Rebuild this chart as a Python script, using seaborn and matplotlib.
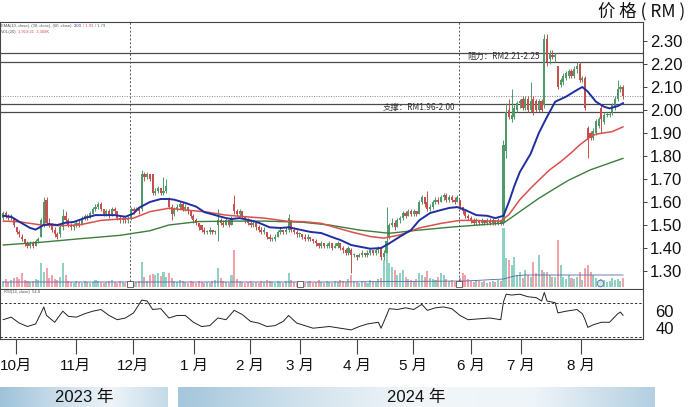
import numpy as np
import pandas as pd
import matplotlib
matplotlib.use("Agg")
import matplotlib.pyplot as plt
import seaborn as sns
from matplotlib.colors import LinearSegmentedColormap

# ---------------- data ----------------
opens = [
    1.53,1.55,1.54,1.53,1.53,1.49,1.47,1.45,1.44,1.42,
    1.41,1.42,1.41,1.43,1.45,1.50,1.61,1.51,1.50,1.48,
    1.46,1.46,1.49,1.54,1.52,1.50,1.49,1.50,1.51,1.50,
    1.53,1.54,1.53,1.55,1.57,1.58,1.59,1.57,1.55,1.56,
    1.54,1.57,1.56,1.53,1.52,1.53,1.52,1.53,1.57,1.56,
    1.57,1.57,1.72,1.71,1.72,1.72,1.64,1.65,1.66,1.64,
    1.65,1.61,1.58,1.55,1.57,1.58,1.59,1.57,1.58,1.56,
    1.54,1.52,1.51,1.50,1.48,1.47,1.47,1.48,1.47,1.50,
    1.52,1.51,1.50,1.52,1.50,1.59,1.56,1.55,1.56,1.54,
    1.52,1.51,1.50,1.51,1.49,1.48,1.47,1.47,1.45,1.44,
    1.44,1.45,1.47,1.48,1.47,1.48,1.52,1.48,1.47,1.46,
    1.46,1.45,1.44,1.45,1.44,1.43,1.42,1.41,1.42,1.41,
    1.41,1.42,1.40,1.41,1.42,1.40,1.39,1.38,1.39,1.37,
    1.37,1.36,1.37,1.38,1.37,1.38,1.39,1.38,1.39,1.40,
    1.36,1.38,1.45,1.50,1.51,1.49,1.52,1.53,1.55,1.54,
    1.56,1.55,1.56,1.55,1.60,1.62,1.60,1.57,1.58,1.60,
    1.61,1.60,1.62,1.63,1.61,1.62,1.61,1.60,1.61,1.58,
    1.56,1.54,1.53,1.52,1.51,1.52,1.51,1.52,1.51,1.52,
    1.51,1.52,1.51,1.52,1.51,1.82,2.00,1.96,1.97,2.00,
    2.03,2.05,2.01,2.05,2.00,2.05,2.04,2.00,2.04,2.02,
    2.31,2.22,2.24,2.23,2.19,2.11,2.12,2.14,2.15,2.17,
    2.15,2.18,2.20,2.13,2.14,1.92,1.90,1.88,1.90,1.93,
    2.01,1.95,1.98,1.98,1.99,2.01,2.05,2.09,2.10,
]
highs = [
    1.56,1.56,1.55,1.55,1.53,1.49,1.48,1.46,1.44,1.43,
    1.43,1.43,1.44,1.45,1.53,1.62,1.62,1.53,1.51,1.49,
    1.47,1.50,1.57,1.56,1.53,1.51,1.51,1.52,1.52,1.54,
    1.55,1.55,1.56,1.58,1.59,1.60,1.60,1.57,1.57,1.57,
    1.58,1.58,1.56,1.54,1.54,1.54,1.54,1.58,1.58,1.58,
    1.58,1.74,1.73,1.73,1.72,1.72,1.66,1.67,1.66,1.71,
    1.70,1.62,1.59,1.58,1.59,1.60,1.60,1.59,1.58,1.56,
    1.55,1.53,1.51,1.50,1.49,1.48,1.49,1.48,1.48,1.57,
    1.53,1.52,1.53,1.52,1.54,1.63,1.57,1.57,1.56,1.54,
    1.53,1.52,1.52,1.51,1.50,1.49,1.49,1.47,1.46,1.45,
    1.46,1.48,1.49,1.48,1.49,1.55,1.52,1.49,1.48,1.47,
    1.46,1.46,1.46,1.45,1.44,1.44,1.42,1.43,1.42,1.42,
    1.43,1.42,1.42,1.43,1.42,1.41,1.40,1.41,1.40,1.38,
    1.37,1.38,1.39,1.38,1.39,1.40,1.39,1.40,1.41,1.40,
    1.39,1.58,1.51,1.53,1.52,1.53,1.54,1.56,1.56,1.57,
    1.57,1.57,1.56,1.61,1.63,1.62,1.65,1.59,1.61,1.62,
    1.62,1.63,1.64,1.64,1.63,1.63,1.62,1.63,1.61,1.58,
    1.57,1.55,1.54,1.53,1.53,1.52,1.53,1.52,1.53,1.53,
    1.53,1.52,1.53,1.52,1.87,2.03,2.05,2.09,2.02,2.04,
    2.05,2.06,2.06,2.06,2.12,2.06,2.05,2.05,2.05,2.33,
    2.33,2.26,2.26,2.25,2.19,2.14,2.16,2.17,2.18,2.18,
    2.19,2.21,2.21,2.15,2.15,1.93,1.91,1.92,1.96,1.97,
    2.02,1.99,1.99,1.99,2.03,2.06,2.13,2.11,2.11,
]
lows = [
    1.52,1.53,1.52,1.52,1.49,1.46,1.45,1.43,1.41,1.40,
    1.40,1.40,1.41,1.42,1.45,1.49,1.50,1.49,1.47,1.45,
    1.44,1.45,1.48,1.51,1.49,1.48,1.48,1.49,1.49,1.50,
    1.52,1.52,1.53,1.55,1.56,1.57,1.56,1.54,1.54,1.53,
    1.54,1.55,1.52,1.51,1.51,1.51,1.51,1.52,1.55,1.56,
    1.55,1.56,1.69,1.70,1.69,1.63,1.63,1.64,1.63,1.63,
    1.64,1.57,1.52,1.54,1.56,1.57,1.56,1.56,1.55,1.53,
    1.51,1.50,1.48,1.47,1.46,1.46,1.46,1.46,1.46,1.43,
    1.50,1.49,1.50,1.49,1.50,1.55,1.54,1.54,1.53,1.51,
    1.50,1.49,1.49,1.48,1.47,1.46,1.46,1.44,1.43,1.43,
    1.43,1.45,1.46,1.46,1.46,1.47,1.47,1.46,1.45,1.45,
    1.44,1.43,1.43,1.43,1.42,1.41,1.40,1.40,1.40,1.40,
    1.40,1.39,1.40,1.40,1.39,1.38,1.37,1.37,1.29,1.36,
    1.35,1.36,1.36,1.36,1.36,1.37,1.37,1.37,1.38,1.35,
    1.35,1.38,1.44,1.49,1.48,1.49,1.51,1.52,1.53,1.54,
    1.54,1.54,1.54,1.55,1.59,1.58,1.56,1.56,1.57,1.59,
    1.59,1.60,1.61,1.60,1.60,1.60,1.59,1.60,1.57,1.55,
    1.53,1.52,1.51,1.50,1.50,1.50,1.50,1.50,1.50,1.50,
    1.50,1.50,1.50,1.50,1.50,1.79,1.96,1.95,1.96,1.99,
    2.01,2.00,2.00,1.99,1.99,1.98,1.99,1.99,1.99,2.01,
    2.19,2.20,2.22,2.21,2.09,2.10,2.11,2.13,2.14,2.14,
    2.14,2.16,2.12,2.12,2.00,1.79,1.87,1.87,1.89,1.92,
    1.90,1.94,1.97,1.97,1.98,2.00,2.04,2.08,2.05,
]
closes = [
    1.55,1.54,1.53,1.54,1.50,1.47,1.46,1.44,1.42,1.41,
    1.42,1.41,1.43,1.44,1.52,1.60,1.51,1.50,1.48,1.46,
    1.45,1.49,1.54,1.52,1.50,1.49,1.50,1.51,1.50,1.53,
    1.54,1.53,1.55,1.57,1.58,1.59,1.57,1.55,1.56,1.54,
    1.57,1.56,1.53,1.52,1.53,1.52,1.53,1.57,1.56,1.57,
    1.56,1.72,1.71,1.72,1.70,1.64,1.65,1.66,1.64,1.65,
    1.67,1.58,1.55,1.57,1.58,1.59,1.57,1.58,1.56,1.54,
    1.52,1.51,1.49,1.48,1.47,1.47,1.48,1.47,1.47,1.52,
    1.51,1.50,1.52,1.50,1.53,1.56,1.55,1.56,1.54,1.52,
    1.51,1.50,1.51,1.49,1.48,1.47,1.48,1.45,1.44,1.44,
    1.45,1.47,1.48,1.47,1.48,1.53,1.48,1.47,1.46,1.46,
    1.45,1.44,1.45,1.44,1.43,1.42,1.41,1.42,1.41,1.41,
    1.42,1.40,1.41,1.42,1.40,1.39,1.38,1.40,1.37,1.37,
    1.36,1.37,1.38,1.37,1.38,1.39,1.38,1.39,1.40,1.36,
    1.38,1.43,1.50,1.51,1.49,1.52,1.53,1.55,1.54,1.56,
    1.55,1.56,1.55,1.60,1.62,1.59,1.57,1.58,1.60,1.61,
    1.60,1.62,1.63,1.61,1.62,1.61,1.60,1.62,1.58,1.56,
    1.54,1.53,1.52,1.51,1.52,1.51,1.52,1.51,1.52,1.51,
    1.52,1.51,1.52,1.51,1.85,1.99,1.97,1.98,2.01,2.03,
    2.04,2.01,2.05,2.00,2.04,1.99,2.00,2.04,2.00,2.31,
    2.21,2.25,2.23,2.24,2.10,2.13,2.15,2.16,2.17,2.15,
    2.18,2.19,2.13,2.14,2.01,1.87,1.88,1.91,1.95,1.96,
    1.96,1.98,1.98,1.98,2.02,2.05,2.09,2.10,2.06,
]
volumes = [
    6,8,5,7,9,10,8,14,7,6,
    5,6,8,7,24,15,19,9,12,8,
    7,10,24,12,6,5,4,6,5,4,
    6,5,4,5,7,6,5,4,5,6,
    7,5,4,6,5,4,5,6,4,5,
    6,25,10,6,12,13,12,14,11,15,
    10,14,9,6,5,7,6,5,4,6,
    5,4,6,5,4,5,4,6,7,19,
    9,6,5,4,12,37,8,6,5,4,
    5,6,4,5,4,6,5,7,6,5,
    4,6,5,4,6,14,7,5,4,6,
    5,4,5,6,4,5,7,5,4,6,
    5,4,6,5,7,6,5,8,12,6,
    5,4,6,5,4,7,6,5,8,9,
    27,37,24,20,17,12,14,17,10,8,
    7,6,8,14,12,10,16,9,8,7,
    10,14,12,8,6,7,5,6,9,14,
    12,8,6,5,7,6,5,6,4,5,
    6,5,7,6,59,29,27,22,30,12,
    15,9,17,12,10,25,14,32,17,15,
    15,12,10,10,47,22,10,8,12,9,
    8,10,15,7,19,22,15,12,9,6,
    8,7,5,6,9,7,8,6,9,
]

# moving-average lines (trading-day index, price)
ema_s_day = [0,3,6,10,12,15,17,20,23,26,30,34,37,41,45,48,50,54,58,61,63,67,71,74,78,82,84,87,91,94,
             98,102,105,109,113,117,122,124,128,131,135,139,142,146,150,153,157,161,164,167,170,174,178,181,184,
             186,188,190,192,194,197,200,203,207,211,213,215,218,221,223,226,228]
ema_s_val = [1.540,1.536,1.514,1.487,1.480,1.500,1.504,1.500,1.510,1.513,1.530,1.543,1.543,1.543,1.536,1.550,1.575,1.600,1.613,1.613,
             1.610,1.596,1.580,1.556,1.543,1.530,1.526,1.530,1.520,1.510,1.490,1.487,1.490,1.480,1.470,1.465,1.443,1.435,1.413,1.406,
             1.397,1.400,1.420,1.450,1.478,1.520,1.552,1.565,1.574,1.578,1.565,1.543,1.540,1.530,1.540,
             1.600,1.670,1.730,1.770,1.810,1.900,1.970,2.036,2.058,2.087,2.100,2.080,2.036,2.014,2.007,2.017,2.030]
ema_m_day = [0,6,14,21,28,36,43,48,54,61,67,74,82,89,96,104,111,117,122,128,135,140,146,153,161,168,174,178,183,
             186,190,194,197,201,205,209,212,216,218,224,228]
ema_m_val = [1.517,1.514,1.500,1.497,1.500,1.520,1.526,1.530,1.558,1.573,1.565,1.558,1.543,1.536,1.530,1.517,1.514,1.507,1.490,1.470,
             1.450,1.443,1.457,1.487,1.507,1.520,1.520,1.517,1.517,
             1.545,1.610,1.660,1.695,1.740,1.775,1.815,1.848,1.884,1.895,1.906,1.927]
ema_l_day = [0,14,28,43,54,61,72,86,96,110,120,131,142,153,164,179,184,190,197,205,208,216,222,228]
ema_l_val = [1.413,1.425,1.440,1.455,1.475,1.500,1.515,1.517,1.517,1.512,1.500,1.478,1.464,1.478,1.490,1.504,1.508,
             1.558,1.616,1.674,1.695,1.740,1.765,1.790]
vol_ma_day = [0,60,120,170,184,188,192,228]
vol_ma_val = [5,5,5,6,8,11,12,12]

rsi_day = [0,3,6,9,12,14,15,16,19,22,24,27,30,33,36,39,42,45,48,51,53,55,58,61,64,67,70,73,76,79,82,85,88,91,94,97,
           100,103,105,108,111,114,117,120,124,128,131,134,138,139,141,142,145,148,151,154,156,159,162,165,168,171,175,179,183,
           184,185,187,190,193,196,198,199,200,203,204,207,211,213,214,215,217,220,223,226,227,228]
rsi_val = [50,53,46,42,45,58,65,55,47,60,54,53,57,60,62,55,50,52,58,73,72,62,63,52,55,55,47,42,43,52,50,61,56,48,46,42,
           43,48,55,46,43,40,41,42,40,38,42,45,47,40,55,63,62,64,62,68,61,64,65,63,55,50,51,52,50,
           71,80,79,80,77,76,72,82,72,70,58,60,62,57,50,41,44,47,47,57,59,55]

price_ticks = [1.30,1.40,1.50,1.60,1.70,1.80,1.90,2.00,2.10,2.20,2.30]
rsi_ticks = [40, 60]
month_day = [4.8, 26.8, 47.8, 70.2, 90.8, 109.2, 130.1, 150.7, 172.0, 190.4, 212.5]
month_labels = ["10月", "11月", "12月", "1 月", "2 月", "3 月", "4 月", "5 月", "6 月", "7 月", "8 月"]
resistance = [2.21, 2.25]
support = [1.99, 2.025]
last_price = 2.06
event_days = [46.7, 109.2, 167.6]
dashed_days = [46.7, 167.6]
circle_day = [219.5]

# ---------------- figure ----------------
sns.set_theme(style="white")
plt.rcParams['font.family'] = ['Liberation Sans', 'Noto Sans CJK SC', 'DejaVu Sans']

W, H = 690, 407
fig = plt.figure(figsize=(W / 100, H / 100), dpi=100)
fig.patch.set_facecolor("white")

def rect(x0, y0, x1, y1):
    return [x0 / W, 1 - y1 / H, (x1 - x0) / W, (y1 - y0) / H]

PX = 2.72       # pixels per trading day
X0 = 3          # pixel of first candle
def xlim_for(x0px, x1px):
    return ((x0px - X0) / PX, (x1px - X0) / PX)

def py(ypx):    # pixel row -> price
    return 2.30 - (ypx - 41) / 230.0

ax = fig.add_axes(rect(0, 22, 643, 289))
vax = ax.twinx()
rax = fig.add_axes(rect(0, 290, 643, 339))

df = pd.DataFrame({"o": opens, "h": highs, "l": lows, "c": closes, "v": volumes})
df["day"] = np.arange(len(df))
up = df["c"] >= df["o"]
UPC, DNC = "#4f9a6a", "#c8504c"
VUP, VDN = "#8fd1c4", "#f3a2a9"
cols = np.where(up, UPC, DNC)

# volume (behind)
vax.bar(df["day"], df["v"], width=0.75, color=np.where(up, VUP, VDN), linewidth=0)
sns.lineplot(x=vol_ma_day, y=vol_ma_val, ax=vax, color="#5566aa", lw=0.6, legend=False)
vax.scatter(event_days, [3.5] * len(event_days), marker="s", s=14, facecolor="white",
            edgecolor="#555555", linewidth=0.6, zorder=5)
vax.scatter(circle_day, [4.5], marker="o", s=22, facecolor="#cfe6ef",
            edgecolor="#5a7fa0", linewidth=0.7, zorder=5)
vax.set_ylim(-2, 265)
vax.set_yticks([])
vax.set_zorder(ax.get_zorder() - 1)
for s in vax.spines.values():
    s.set_visible(False)
ax.patch.set_visible(False)

# horizontal reference lines
for lv in resistance + support:
    ax.axhline(lv, color="#4a4a4a", lw=0.9, zorder=1)
ax.axhline(last_price, color="#888888", lw=0.7, ls=(0, (1, 1.5)), zorder=1)
for d in dashed_days:
    ax.axvline(d, ymin=0.03, ymax=1, color="#555555", lw=0.7, ls=(0, (2, 2)), zorder=1)

# candles
ax.vlines(df["day"], df["l"], df["h"], color=cols, lw=0.7, zorder=3)
body = np.maximum((df["c"] - df["o"]).abs(), 0.004)
ax.bar(df["day"], body, bottom=np.minimum(df["o"], df["c"]), width=0.78,
       color=cols, linewidth=0, zorder=4)

# moving averages
sns.lineplot(x=ema_l_day, y=ema_l_val, ax=ax, color="#3d7d3d", lw=1.0, legend=False, zorder=5)
sns.lineplot(x=ema_m_day, y=ema_m_val, ax=ax, color="#d9504e", lw=1.1, legend=False, zorder=5)
sns.lineplot(x=ema_s_day, y=ema_s_val, ax=ax, color="#1f2fa0", lw=1.4, legend=False, zorder=6)

ax.set_xlim(*xlim_for(0, 643))
ax.set_ylim(py(289), py(22))
ax.yaxis.tick_right()
ax.set_yticks(price_ticks)
ax.set_yticklabels([f"{v:.2f}" for v in price_ticks])
ax.tick_params(axis="y", which="both", right=True, left=False, length=3, width=0.7,
               color="#444444", labelsize=12, pad=2, labelcolor="#111111")
ax.set_xticks([])
ax.set_xlabel("")
ax.set_ylabel("")
vax.set_ylabel("")
for s in ax.spines.values():
    s.set_color("#444444")
    s.set_linewidth(0.8)
ax.grid(False)

# resistance / support labels
ax.text(170.5, 2.232, "阻力：RM2.21-2.25", fontsize=6, color="#333333",
        va="center", ha="left", zorder=7,
        family=['Noto Sans CJK SC', 'DejaVu Sans'])
ax.text(139.7, 2.009, "支撑：RM1.96-2.00", fontsize=6, color="#333333",
        va="center", ha="left", zorder=7,
        family=['Noto Sans CJK SC', 'DejaVu Sans'])

# legend-like header texts (tiny)
fig.text(1 / W, 1 - 26 / H, "EMA(10, close), (30, close), (60, close)", fontsize=3.0,
         color="#555555", va="center", ha="left")
fig.text(74 / W, 1 - 26 / H, "2.03", fontsize=3.0, color="#1f2fa0", va="center", ha="left")
fig.text(83 / W, 1 - 26 / H, "/ 1.93", fontsize=3.0, color="#d9504e", va="center", ha="left")
fig.text(95 / W, 1 - 26 / H, "/ 1.79", fontsize=3.0, color="#3d7d3d", va="center", ha="left")
fig.text(1 / W, 1 - 32 / H, "VOL(20)", fontsize=3.0, color="#555555", va="center", ha="left")
fig.text(18 / W, 1 - 32 / H, "1,919.21  3,308K", fontsize=3.0, color="#d9504e", va="center", ha="left")

# RSI panel
sns.lineplot(x=rsi_day, y=rsi_val, ax=rax, color="#222222", lw=0.7, legend=False)
for lv in (30, 70):
    rax.axhline(lv, color="#333333", lw=0.7, ls=(0, (2.5, 2)))
rax.set_xlim(*xlim_for(0, 643))
rax.set_ylim(70 - (339 - 302.7) / 0.85, 70 + (302.7 - 290) / 0.85)
rax.yaxis.tick_right()
rax.set_yticks(rsi_ticks)
rax.set_yticklabels([str(v) for v in rsi_ticks])
rax.tick_params(axis="y", length=0, labelsize=12, pad=9, labelcolor="#111111")
rax.set_xticks(month_day)
rax.set_xticklabels(month_labels)
rax.tick_params(axis="x", bottom=True, direction="out", length=11, width=0.8,
                color="#444444", labelsize=11, pad=3, labelcolor="#111111")
rax.set_xlabel("")
rax.set_ylabel("")
for s in rax.spines.values():
    s.set_color("#444444")
    s.set_linewidth(0.8)
rax.spines["top"].set_visible(False)
rax.text(0.3, 82, "RSI(14, close)  54.8", fontsize=3.0, color="#555555", va="center", ha="left")

# price-unit header
fig.text(642 / W, 1 - 11 / H, "价 格 ( RM )", fontsize=12.5, ha="center", va="center",
         color="#111111", family=['Noto Sans CJK SC', 'DejaVu Sans'])

# year bands
bax = fig.add_axes(rect(0, 387, 690, 407))
bax.set_xlim(0, 690)
bax.set_ylim(20, 0)
bax.axis("off")
band_cmap = LinearSegmentedColormap.from_list(
    "band", ["#9fc2d9", "#c8dcea", "#eef4f8", "#c4dae8"])
grad = np.linspace(0, 1, 256)[None, :]
bax.imshow(grad, extent=(0, 168, 20, 0), cmap=band_cmap, aspect="auto")
band_cmap2 = LinearSegmentedColormap.from_list(
    "band2", ["#a5c6dc", "#cfe1ec", "#f2f6f9", "#eef4f8", "#b3cfe1"])
bax.imshow(grad, extent=(178, 655, 20, 0), cmap=band_cmap2, aspect="auto")
bax.text(84, 10.5, "2023 年", fontsize=12, ha="center", va="center", color="#111111")
bax.text(416, 10.5, "2024 年", fontsize=12, ha="center", va="center", color="#111111")

fig.savefig("out.png", dpi=100, facecolor="white")
